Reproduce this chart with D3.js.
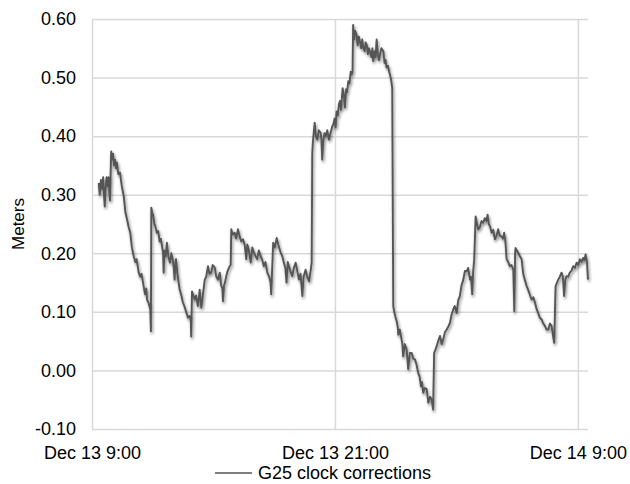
<!DOCTYPE html>
<html>
<head>
<meta charset="utf-8">
<script src="https://cdn.jsdelivr.net/npm/d3@7"></script>
<style>
   body { margin: 0; background: #fff; }
   svg text { font-family: "Liberation Sans", Arial, Helvetica, sans-serif; fill: #000; }
</style>
</head>
<body>
<div class="chart"></div>
<script>
// hours after Dec 13 9:00 and clock correction in meters
const hours = [
   0.33, 0.38, 0.44, 0.50, 0.55, 0.60, 0.63, 0.67, 0.72, 0.77, 0.82, 0.86, 0.89, 0.93, 0.95, 0.99,
   1.04, 1.09, 1.14, 1.19, 1.23, 1.30, 1.38, 1.47, 1.57, 1.65, 1.73, 1.81, 1.89, 1.97, 2.06, 2.14,
   2.20, 2.31, 2.38, 2.45, 2.55, 2.62, 2.68, 2.72, 2.80, 2.88, 2.91, 2.93, 2.97, 3.02, 3.08, 3.13,
   3.20, 3.27, 3.34, 3.40, 3.46, 3.51, 3.54, 3.58, 3.64, 3.70, 3.77, 3.85, 3.92, 4.00, 4.05, 4.08,
   4.12, 4.15, 4.22, 4.33, 4.40, 4.49, 4.56, 4.66, 4.74, 4.82, 4.88, 4.90, 4.94, 4.99, 5.07, 5.14,
   5.23, 5.32, 5.36, 5.40, 5.48, 5.57, 5.64, 5.73, 5.80, 5.89, 5.96, 6.06, 6.14, 6.22, 6.31, 6.38,
   6.44, 6.47, 6.52, 6.57, 6.63, 6.70, 6.80, 6.85, 6.88, 6.95, 7.05, 7.12, 7.21, 7.30, 7.38, 7.46,
   7.54, 7.62, 7.67, 7.75, 7.84, 7.92, 8.00, 8.08, 8.16, 8.24, 8.33, 8.40, 8.49, 8.57, 8.66, 8.75,
   8.82, 8.85, 8.95, 9.03, 9.12, 9.20, 9.32, 9.40, 9.48, 9.55, 9.61, 9.67, 9.73, 9.80, 9.89, 9.97,
   10.06, 10.14, 10.22, 10.30, 10.39, 10.45, 10.55, 10.63, 10.72, 10.80, 10.85, 10.88, 10.91, 11.00, 11.06, 11.13,
   11.20, 11.29, 11.33, 11.37, 11.42, 11.48, 11.54, 11.62, 11.70, 11.78, 11.87, 11.92, 11.98, 12.03, 12.08, 12.14,
   12.20, 12.25, 12.30, 12.38, 12.44, 12.49, 12.55, 12.60, 12.66, 12.72, 12.78, 12.82, 12.87, 12.90, 12.95, 13.00,
   13.07, 13.12, 13.18, 13.23, 13.30, 13.35, 13.40, 13.47, 13.52, 13.57, 13.63, 13.68, 13.73, 13.80, 13.85, 13.89,
   13.96, 14.01, 14.06, 14.12, 14.17, 14.22, 14.30, 14.39, 14.45, 14.50, 14.55, 14.62, 14.68, 14.72, 14.78, 14.83,
   14.88, 14.93, 15.00, 15.05, 15.10, 15.13, 15.20, 15.29, 15.33, 15.37, 15.45, 15.54, 15.58, 15.62, 15.70, 15.79,
   15.87, 15.95, 16.03, 16.11, 16.18, 16.25, 16.30, 16.36, 16.44, 16.53, 16.58, 16.61, 16.70, 16.78, 16.82, 16.85,
   16.90, 16.96, 17.02, 17.10, 17.19, 17.27, 17.35, 17.43, 17.52, 17.60, 17.68, 17.76, 17.84, 17.92, 18.01, 18.09,
   18.17, 18.25, 18.34, 18.42, 18.50, 18.58, 18.67, 18.72, 18.78, 18.83, 18.88, 18.95, 19.02, 19.08, 19.16, 19.24,
   19.32, 19.40, 19.48, 19.54, 19.60, 19.67, 19.74, 19.82, 19.90, 19.98, 20.06, 20.14, 20.23, 20.30, 20.36, 20.42,
   20.48, 20.56, 20.64, 20.72, 20.81, 20.86, 20.90, 20.92, 20.98, 21.05, 21.14, 21.22, 21.30, 21.38, 21.46, 21.54,
   21.62, 21.71, 21.80, 21.88, 21.96, 22.04, 22.12, 22.21, 22.29, 22.37, 22.45, 22.54, 22.62, 22.70, 22.77, 22.83,
   22.90, 22.97, 23.03, 23.11, 23.19, 23.26, 23.32, 23.38, 23.44, 23.52, 23.60, 23.68, 23.77, 23.85, 23.94, 24.02,
   24.10, 24.18, 24.26, 24.32, 24.38, 24.45, 24.50
];
const meters = [
   0.320, 0.300, 0.325, 0.310, 0.330, 0.295, 0.280, 0.310, 0.330, 0.315, 0.330, 0.300, 0.290, 0.350, 0.374, 0.360,
   0.370, 0.350, 0.360, 0.345, 0.355, 0.335, 0.338, 0.315, 0.297, 0.270, 0.258, 0.245, 0.235, 0.210, 0.195, 0.185,
   0.190, 0.167, 0.160, 0.165, 0.144, 0.130, 0.140, 0.121, 0.115, 0.104, 0.067, 0.278, 0.270, 0.265, 0.250, 0.246,
   0.235, 0.238, 0.220, 0.225, 0.212, 0.200, 0.167, 0.205, 0.195, 0.218, 0.195, 0.184, 0.200, 0.187, 0.170, 0.155,
   0.185, 0.190, 0.165, 0.138, 0.130, 0.116, 0.110, 0.099, 0.090, 0.093, 0.085, 0.058, 0.135, 0.130, 0.121, 0.128,
   0.110, 0.138, 0.120, 0.107, 0.130, 0.155, 0.160, 0.178, 0.165, 0.167, 0.180, 0.176, 0.160, 0.155, 0.167, 0.145,
   0.140, 0.118, 0.145, 0.150, 0.161, 0.170, 0.178, 0.180, 0.241, 0.232, 0.235, 0.225, 0.241, 0.228, 0.220, 0.224,
   0.215, 0.190, 0.215, 0.205, 0.184, 0.210, 0.201, 0.195, 0.190, 0.205, 0.195, 0.190, 0.178, 0.185, 0.167, 0.160,
   0.150, 0.130, 0.218, 0.210, 0.226, 0.215, 0.201, 0.195, 0.184, 0.175, 0.150, 0.185, 0.178, 0.170, 0.161, 0.175,
   0.184, 0.170, 0.155, 0.165, 0.127, 0.160, 0.172, 0.160, 0.152, 0.170, 0.184, 0.370, 0.390, 0.423, 0.400, 0.394,
   0.410, 0.406, 0.395, 0.360, 0.390, 0.405, 0.400, 0.410, 0.394, 0.405, 0.417, 0.420, 0.430, 0.415, 0.442, 0.435,
   0.455, 0.460, 0.445, 0.482, 0.470, 0.449, 0.480, 0.475, 0.494, 0.490, 0.510, 0.505, 0.510, 0.590, 0.565, 0.580,
   0.573, 0.555, 0.570, 0.562, 0.550, 0.565, 0.551, 0.545, 0.560, 0.556, 0.540, 0.550, 0.545, 0.535, 0.550, 0.528,
   0.545, 0.535, 0.565, 0.540, 0.530, 0.539, 0.550, 0.545, 0.525, 0.530, 0.517, 0.520, 0.510, 0.505, 0.495, 0.482,
   0.110, 0.100, 0.090, 0.084, 0.075, 0.061, 0.070, 0.053, 0.045, 0.024, 0.045, 0.036, 0.020, 0.002, 0.030, 0.030,
   0.020, 0.019, 0.010, -0.004, -0.010, -0.027, -0.020, -0.038, -0.030, -0.032, -0.045, -0.055, -0.045, -0.050, -0.060, -0.067,
   0.030, 0.035, 0.041, 0.050, 0.059, 0.045, 0.053, 0.065, 0.070, 0.075, 0.081, 0.095, 0.104, 0.110, 0.098, 0.120,
   0.127, 0.145, 0.155, 0.170, 0.169, 0.175, 0.155, 0.160, 0.130, 0.170, 0.190, 0.263, 0.250, 0.241, 0.245, 0.255,
   0.252, 0.260, 0.255, 0.266, 0.250, 0.245, 0.235, 0.240, 0.224, 0.230, 0.241, 0.230, 0.229, 0.225, 0.235, 0.220,
   0.190, 0.185, 0.178, 0.180, 0.172, 0.101, 0.200, 0.209, 0.205, 0.201, 0.195, 0.190, 0.165, 0.155, 0.145, 0.138,
   0.130, 0.121, 0.125, 0.116, 0.105, 0.098, 0.090, 0.087, 0.080, 0.076, 0.070, 0.070, 0.080, 0.076, 0.060, 0.047,
   0.144, 0.150, 0.155, 0.160, 0.167, 0.160, 0.127, 0.155, 0.161, 0.160, 0.167, 0.170, 0.178, 0.175, 0.184, 0.180,
   0.190, 0.185, 0.192, 0.188, 0.198, 0.185, 0.155
];
const yTicks = [-0.1, 0, 0.1, 0.2, 0.3, 0.4, 0.5, 0.6];
const xTicks = [0, 12, 24];
const xTickLabels = ["Dec 13 9:00", "Dec 13 21:00", "Dec 14 9:00"];
const seriesName = "G25 clock corrections";

// setup chart
const width = 630;
const height = 484;
const margin = { top: 19, right: 42, bottom: 55, left: 92 };
const gridColor = "#d9d9d9";
const lineColor = "#555555";

const svg = d3.select(".chart")
   .append("svg")
   .attr("width", width)
   .attr("height", height);

const defs = svg.append("defs");
const shadow = defs.append("filter")
   .attr("id", "shadow")
   .attr("x", "-10%").attr("y", "-10%")
   .attr("width", "120%").attr("height", "120%");
shadow.append("feGaussianBlur").attr("in", "SourceAlpha").attr("stdDeviation", 1.8).attr("result", "blur");
shadow.append("feOffset").attr("in", "blur").attr("dx", 1).attr("dy", 2).attr("result", "off");
shadow.append("feComponentTransfer").attr("in", "off").attr("result", "soft")
   .append("feFuncA").attr("type", "linear").attr("slope", 0.5);
const merge = shadow.append("feMerge");
merge.append("feMergeNode").attr("in", "soft");
merge.append("feMergeNode").attr("in", "SourceGraphic");

const x = d3.scaleLinear()
   .domain([0, 24.5])
   .range([margin.left, width - margin.right]);
const y = d3.scaleLinear()
   .domain([-0.1, 0.6])
   .range([height - margin.bottom, margin.top]);

// horizontal gridlines + y labels
const yAxis = d3.axisLeft(y)
   .tickValues(yTicks)
   .tickFormat(d3.format(".2f"))
   .tickSize(-(x.range()[1] - x.range()[0]))
   .tickPadding(16);
const gy = svg.append("g")
   .attr("transform", `translate(${margin.left},0)`)
   .call(yAxis);
gy.select(".domain").remove();
gy.selectAll(".tick line").attr("stroke", gridColor).attr("stroke-width", 1.5);
gy.selectAll(".tick text")
   .attr("font-size", 18)
   .attr("font-family", "Liberation Sans, Arial, sans-serif")
   .attr("fill", "#000")
   .text((d) => d3.format(".2f")(d).replace("−", "-"));

// vertical gridlines + x labels
const xAxis = d3.axisBottom(x)
   .tickValues(xTicks)
   .tickFormat((d, i) => xTickLabels[i])
   .tickSize(-(y.range()[0] - y.range()[1]))
   .tickPadding(17);
const gx = svg.append("g")
   .attr("transform", `translate(0,${height - margin.bottom})`)
   .call(xAxis);
gx.select(".domain").remove();
gx.selectAll(".tick line").attr("stroke", gridColor).attr("stroke-width", 1.5);
gx.selectAll(".tick text")
   .attr("font-size", 18)
   .attr("font-family", "Liberation Sans, Arial, sans-serif")
   .attr("fill", "#000");

// y title
svg.append("text")
   .attr("transform", `translate(24,${(margin.top + height - margin.bottom) / 2}) rotate(-90)`)
   .attr("text-anchor", "middle")
   .attr("font-size", 17)
   .text("Meters");

// series
const data = hours.map((h, i) => ({ h, v: meters[i] }));
const line = d3.line()
   .x((d) => x(d.h))
   .y((d) => y(d.v));
svg.append("path")
   .datum(data)
   .attr("d", line)
   .attr("fill", "none")
   .attr("stroke", lineColor)
   .attr("stroke-width", 1.9)
   .attr("stroke-linejoin", "round")
   .attr("filter", "url(#shadow)");

// legend
const legend = svg.append("g").attr("transform", "translate(215,473)");
legend.append("line")
   .attr("x1", 0).attr("x2", 37)
   .attr("stroke", lineColor)
   .attr("stroke-width", 1.5);
legend.append("text")
   .attr("x", 43)
   .attr("dy", "0.35em")
   .attr("font-size", 18)
   .text(seriesName);
</script>
</body>
</html>
